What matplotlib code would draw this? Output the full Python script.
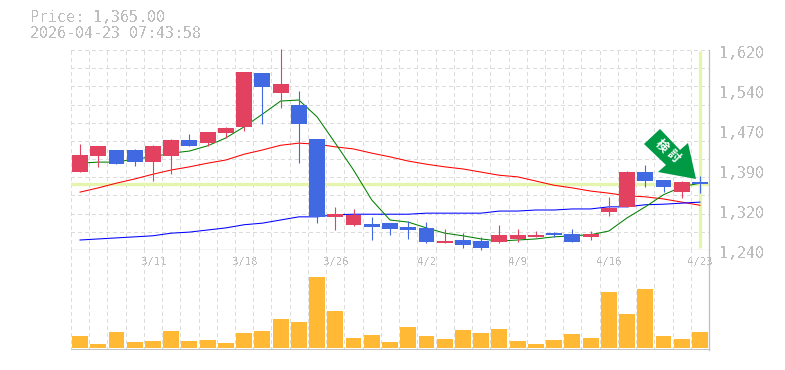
import matplotlib
matplotlib.use("Agg")
import matplotlib.pyplot as plt
from matplotlib.patches import Polygon

plt.rcParams["text.antialiased"] = False

W, H = 785, 370

# values
opens = [1388, 1419, 1430, 1430, 1407, 1419, 1449, 1443, 1462, 1474, 1576, 1538, 1516, 1451, 1303, 1288, 1289, 1291, 1284, 1282, 1253, 1259, 1257, 1255, 1261, 1265, 1272, 1270, 1265, 1312, 1322, 1388, 1373, 1350, 1369]
closes = [1420, 1438, 1403, 1407, 1438, 1449, 1438, 1464, 1472, 1578, 1550, 1555, 1479, 1303, 1308, 1307, 1284, 1280, 1278, 1255, 1257, 1250, 1244, 1268, 1268, 1268, 1268, 1255, 1270, 1320, 1388, 1371, 1360, 1369, 1365]
highs = [1441, 1438, 1430, 1432, 1440, 1451, 1460, 1464, 1474, 1578, 1576, 1622, 1542, 1451, 1322, 1318, 1303, 1291, 1295, 1293, 1280, 1272, 1265, 1287, 1280, 1276, 1274, 1280, 1276, 1341, 1390, 1401, 1373, 1371, 1381]
lows = [1388, 1398, 1403, 1400, 1371, 1384, 1438, 1438, 1453, 1466, 1479, 1510, 1405, 1291, 1278, 1286, 1259, 1269, 1261, 1253, 1253, 1244, 1240, 1253, 1255, 1265, 1265, 1255, 1259, 1305, 1322, 1360, 1350, 1339, 1348]
ma_short = [1405, 1407, 1407, 1413, 1417, 1424, 1428, 1438, 1453, 1474, 1498, 1523, 1525, 1493, 1443, 1392, 1335, 1297, 1293, 1282, 1272, 1267, 1261, 1257, 1259, 1261, 1265, 1267, 1269, 1276, 1301, 1322, 1345, 1360, 1367]
ma_mid = [1350, 1358, 1367, 1375, 1384, 1392, 1398, 1405, 1411, 1422, 1430, 1439, 1443, 1441, 1436, 1432, 1424, 1417, 1409, 1403, 1398, 1394, 1388, 1382, 1379, 1371, 1363, 1358, 1352, 1348, 1343, 1341, 1337, 1331, 1325]
ma_long = [1259, 1261, 1263, 1265, 1267, 1272, 1274, 1278, 1282, 1288, 1291, 1297, 1303, 1303, 1307, 1308, 1308, 1308, 1308, 1310, 1310, 1310, 1310, 1314, 1314, 1316, 1316, 1318, 1318, 1322, 1322, 1326, 1327, 1329, 1331]
volumes = [12, 4, 16, 6, 7, 17, 7, 8, 5, 15, 17, 29, 26, 71, 37, 10, 13, 6, 21, 12, 9, 18, 15, 19, 7, 4, 8, 14, 10, 56, 34, 59, 12, 9, 16]
date_ticks = [4, 9, 14, 19, 24, 29, 34]
date_labels = ["3/11", "3/18", "3/26", "4/2", "4/9", "4/16", "4/23"]
price_ticks = [1240, 1316, 1392, 1468, 1544, 1620]
price_labels = ["1,240", "1,320", "1,390", "1,470", "1,540", "1,620"]
last_price = 1365

GRAY = "#bdbdbd"
GRID = "#dcdcdc"
PALE = "#e6f5ae"
RED = "#e2425f"
BLUE = "#4169e1"


def add_axes(fig, left, top, right, bottom):
    ax = fig.add_axes([left / W, 1 - bottom / H, (right - left) / W, (bottom - top) / H])
    for s in ax.spines.values():
        s.set_visible(False)
    ax.set_xlim(-0.5, 34.5)
    ax.set_xticks([])
    ax.set_yticks([])
    ax.patch.set_alpha(0)
    return ax


def draw_grid(ax, with_rows):
    for i in range(36):
        ax.axvline(i - 0.5, color=GRID, lw=0.72, dashes=(3, 3), zorder=1, antialiased=False)
    if with_rows:
        for i in range(12):
            ax.axhline(1240 + i * 380 / 11, color=GRID, lw=0.72, dashes=(3, 3), zorder=1, antialiased=False)


fig = plt.figure(figsize=(W / 100, H / 100), dpi=100)

ax = add_axes(fig, 70.9, 50, 709.1, 250)
ax.set_ylim(1240, 1620)
draw_grid(ax, True)

ax.axhline(last_price, color=PALE, lw=2.4, zorder=2)
ax.plot([34, 34], [1243, 1618], color=PALE, lw=2.4, zorder=2, solid_capstyle="butt")

xs = list(range(len(closes)))
for vals, col in [(ma_mid, "#ff0000"), (ma_long, "#0000ff"), (ma_short, "#008000")]:
    ax.plot(xs, vals, color=col, lw=0.75, zorder=3)

for i in xs:
    col = RED if closes[i] >= opens[i] else BLUE
    ax.plot([i, i], [lows[i], highs[i]], color=col, lw=0.8, zorder=4, clip_on=False, solid_capstyle="butt")
    ax.bar(i, abs(closes[i] - opens[i]), bottom=min(opens[i], closes[i]), width=0.87, color=col, zorder=5)

ax2 = add_axes(fig, 70.9, 250, 709.1, 350)
ax2.set_ylim(-2, 98)
draw_grid(ax2, False)
ax2.bar(xs, volumes, width=0.87, color="#ffb935", zorder=3)

# frame
ax.axhline(1240, color=GRAY, lw=0.9, zorder=6)
ax2.axhline(-1.5, color=GRAY, lw=1.3, zorder=6)
ax.plot([1, 1], [0, 1], transform=ax.transAxes, color=GRAY, lw=0.9, zorder=6, clip_on=False)
ax2.plot([1, 1], [0, 1], transform=ax2.transAxes, color=GRAY, lw=0.9, zorder=6, clip_on=False)

for t, lab in zip(price_ticks, price_labels):
    ax.annotate(lab, (1, t), xycoords=ax.get_yaxis_transform(), xytext=(7.5, -2.4), textcoords="offset points",
                family="DejaVu Sans Mono", fontsize=10.8, color=GRAY, ha="left", va="center", annotation_clip=False)
for t, lab in zip(date_ticks, date_labels):
    ax.annotate(lab, (t, 1240), xytext=(0.5, -8.5), textcoords="offset points", family="DejaVu Sans Mono",
                fontsize=7.6, color=GRAY, ha="center", va="center", annotation_clip=False)

fig.text(30 / W, 1 - 18 / H, "Price: 1,365.00", family="DejaVu Sans Mono", fontsize=10.8, color=GRAY, va="center")
fig.text(30 / W, 1 - 33 / H, "2026-04-23 07:43:58", family="DejaVu Sans Mono", fontsize=10.8, color=GRAY, va="center")

# arrow badge
pts = [(660, 129), (680, 150), (688, 143), (696, 179), (658, 172), (666, 165), (644, 144)]
fig.add_artist(Polygon([(x / W, 1 - y / H) for x, y in pts], closed=True, transform=fig.transFigure,
                       facecolor="#009944", edgecolor="none", zorder=8))
for (cx, cy), ch in zip([(661, 146), (673, 156)], "検討"):
    fig.text(cx / W, 1 - cy / H, ch, family=["Noto Sans CJK JP", "DejaVu Sans"], fontsize=9, weight="bold",
             color="white", rotation=-45, rotation_mode="anchor", ha="center", va="center", zorder=9, antialiased=True)

fig.savefig("out.png", dpi=100)
